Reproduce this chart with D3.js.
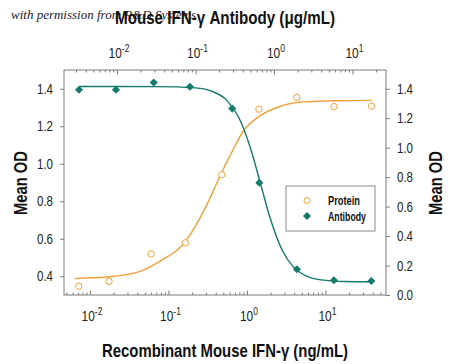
<!DOCTYPE html>
<html><head><meta charset="utf-8">
<script src="https://cdn.jsdelivr.net/npm/d3@7"></script>
<style>
body{margin:0;background:#fff;}
svg{display:block;}
text{font-family:"Liberation Sans Narrow","Arial Narrow","Liberation Sans",sans-serif;}
</style></head>
<body><svg id="c" width="450" height="364"></svg>
<script>
// ---- data ----
const proteinConc = [0.0072, 0.0175, 0.060, 0.164, 0.477, 1.42, 4.3, 12.8, 38.7];        // ng/mL
const proteinOD   = [0.347, 0.372, 0.519, 0.578, 0.942, 1.291, 1.354, 1.305, 1.307];
const antibodyConc = [0.00328, 0.0097, 0.0294, 0.085, 0.294, 0.65, 1.96, 5.8, 17.4];     // µg/mL
const antibodyOD   = [1.393, 1.393, 1.442, 1.413, 1.265, 0.762, 0.175, 0.100, 0.095];
// fitted curves
const proteinFitConc = [0.0064, 0.018, 0.046, 0.096, 0.13, 0.167, 0.283, 0.481, 0.664, 0.889, 1.42, 2.41, 4.33, 12.8, 39.1];
const proteinFitOD   = [0.388, 0.397, 0.430, 0.503, 0.540, 0.590, 0.750, 0.957, 1.074, 1.172, 1.252, 1.300, 1.327, 1.336, 1.338];
const antibodyFitConc = [0.00328, 0.0316, 0.1, 0.158, 0.251, 0.355, 0.501, 0.676, 0.891, 1.259, 1.778, 2.512, 3.981, 7.943, 17.38];
const antibodyFitOD   = [1.415, 1.414, 1.406, 1.385, 1.321, 1.206, 0.998, 0.753, 0.524, 0.309, 0.189, 0.132, 0.103, 0.092, 0.090];
const leftTicks = [0.4, 0.6, 0.8, 1.0, 1.2, 1.4];
const rightTicks = [0.0, 0.2, 0.4, 0.6, 0.8, 1.0, 1.2, 1.4];
const decadeExps = [-2, -1, 0, 1];
const seriesNames = ["Protein", "Antibody"];
const xTitle = "Recombinant Mouse IFN-\u03B3 (ng/mL)";
const x2Title = "Mouse IFN-\u03B3 Antibody (\u03BCg/mL)";
const yTitle = "Mean OD";
const credit = "with permission from R&D Systems";

// ---- layout ----
const L = 64, R = 386, T = 70, B = 295;
const orange = "#f2a03a", teal = "#137a6c", axisCol = "#7a7a7a";
const svg = d3.select("#c");

const xB = d3.scaleLog().domain([Math.pow(10, -2.331), Math.pow(10, 1.771)]).range([L, R]);
const xT = d3.scaleLog().domain([Math.pow(10, -2.675), Math.pow(10, 1.427)]).range([L, R]);
const yL = d3.scaleLinear().domain([0.3, 1.5]).range([B, T]);
const yR = d3.scaleLinear().domain([0, 1.527]).range([B, T]);

function logTicks(scale){
  const [a,b] = scale.domain(); const major=[], minor=[];
  for(let e=Math.floor(Math.log10(a)); e<=Math.ceil(Math.log10(b)); e++){
    for(let m=1;m<10;m++){ const v=m*Math.pow(10,e); if(v>=a&&v<=b){ (m===1?major:minor).push(v);} }
  }
  return {major, minor};
}
function condense(sel, len){ sel.attr("textLength", len).attr("lengthAdjust","spacingAndGlyphs"); }

// credit (drawn first so the title overlaps it)
svg.append("text").attr("x", 11).attr("y", 19).attr("font-size", 13)
  .style("font-family", "'Liberation Serif','DejaVu Serif',serif").style("font-style","italic")
  .attr("fill", "#1c2030").text(credit);

// frame
svg.append("rect").attr("x", L).attr("y", T).attr("width", R-L).attr("height", B-T)
  .attr("fill","none").attr("stroke", axisCol).attr("stroke-width", 1);

// bottom axis ticks (inward)
const tb = logTicks(xB);
svg.append("g").attr("transform",`translate(0,${B})`)
  .call(d3.axisTop(xB).tickValues(tb.minor).tickSize(2.5).tickFormat(""))
  .call(g=>{g.select(".domain").remove(); g.selectAll("line").attr("stroke",axisCol);});
svg.append("g").attr("transform",`translate(0,${B})`)
  .call(d3.axisTop(xB).tickValues(tb.major).tickSize(4.5).tickFormat(""))
  .call(g=>{g.select(".domain").remove(); g.selectAll("line").attr("stroke",axisCol);});
// top axis ticks (inward)
const tt = logTicks(xT);
svg.append("g").attr("transform",`translate(0,${T})`)
  .call(d3.axisBottom(xT).tickValues(tt.minor).tickSize(2.5).tickFormat(""))
  .call(g=>{g.select(".domain").remove(); g.selectAll("line").attr("stroke",axisCol);});
svg.append("g").attr("transform",`translate(0,${T})`)
  .call(d3.axisBottom(xT).tickValues(tt.major).tickSize(4.5).tickFormat(""))
  .call(g=>{g.select(".domain").remove(); g.selectAll("line").attr("stroke",axisCol);});

function powLabel(x, y, e){
  const g = svg.append("g").attr("transform", `translate(${x},${y}) scale(0.85,1)`);
  const t = g.append("text").attr("text-anchor","middle").attr("font-size", 14).attr("fill","#222");
  t.append("tspan").text("10");
  t.append("tspan").attr("dy", -6).attr("font-size", 10).text(String(e));
}
decadeExps.forEach(e=>{
  powLabel(xB(Math.pow(10,e))+2, 321, e);
  powLabel(xT(Math.pow(10,e))+2, 58, e);
});

// left axis
svg.append("g").attr("transform",`translate(${L},0)`)
  .call(d3.axisLeft(yL).tickValues(leftTicks).tickSize(4).tickPadding(7).tickFormat(d3.format(".1f")))
  .call(g=>{g.select(".domain").remove(); g.selectAll("line").attr("stroke",axisCol);
    g.selectAll("text").attr("font-size",14).attr("fill","#222").style("font-family","'Liberation Sans',sans-serif").call(condense, 16);});
// right axis
svg.append("g").attr("transform",`translate(${R},0)`)
  .call(d3.axisRight(yR).tickValues(rightTicks).tickSize(4).tickPadding(7).tickFormat(d3.format(".1f")))
  .call(g=>{g.select(".domain").remove(); g.selectAll("line").attr("stroke",axisCol);
    g.selectAll("text").attr("font-size",14).attr("fill","#222").style("font-family","'Liberation Sans',sans-serif").call(condense, 16);});

// titles
svg.append("text").attr("x", 225).attr("y", 357).attr("text-anchor","middle")
  .attr("font-size", 18).attr("font-weight","bold").attr("fill","#111").text(xTitle).call(condense, 246);
svg.append("text").attr("x", 225).attr("y", 24).attr("text-anchor","middle")
  .attr("font-size", 18).attr("font-weight","bold").attr("fill","#111").text(x2Title).call(condense, 220);
svg.append("text").attr("transform","translate(27,183) rotate(-90)").attr("text-anchor","middle")
  .attr("font-size", 18).attr("font-weight","bold").attr("fill","#111").text(yTitle).call(condense, 64);
svg.append("text").attr("transform","translate(442,183) rotate(-90)").attr("text-anchor","middle")
  .attr("font-size", 18).attr("font-weight","bold").attr("fill","#111").text(yTitle).call(condense, 64);

// curves
const protLine = d3.line().x(d=>xB(d[0])).y(d=>yL(d[1])).curve(d3.curveMonotoneX);
const abLine = d3.line().x(d=>xT(d[0])).y(d=>yR(d[1])).curve(d3.curveMonotoneX);
svg.append("path").datum(d3.zip(proteinFitConc, proteinFitOD)).attr("d", protLine)
  .attr("fill","none").attr("stroke", orange).attr("stroke-width", 1.4);
svg.append("path").datum(d3.zip(antibodyFitConc, antibodyFitOD)).attr("d", abLine)
  .attr("fill","none").attr("stroke", teal).attr("stroke-width", 1.4);

// points
svg.append("g").selectAll("circle").data(d3.zip(proteinConc, proteinOD)).join("circle")
  .attr("cx", d=>xB(d[0])).attr("cy", d=>yL(d[1])).attr("r", 3.2)
  .attr("fill","#fff").attr("stroke", orange).attr("stroke-width", 1);
const diamond = d3.symbol().type(d3.symbolDiamond2).size(42);
svg.append("g").selectAll("path").data(d3.zip(antibodyConc, antibodyOD)).join("path")
  .attr("transform", d=>`translate(${xT(d[0])},${yR(d[1])})`).attr("d", diamond).attr("fill", teal);

// legend
const lg = svg.append("g");
lg.append("rect").attr("x", 286).attr("y", 186).attr("width", 89).attr("height", 45)
  .attr("fill","#fff").attr("stroke","#8a8a8a").attr("stroke-width",1);
lg.append("circle").attr("cx", 307).attr("cy", 200.5).attr("r", 3).attr("fill","#fff").attr("stroke",orange);
lg.append("path").attr("transform","translate(307,216)").attr("d", diamond).attr("fill", teal);
lg.selectAll("text.lg").data(seriesNames).join("text").attr("class","lg")
  .attr("x", 328).attr("y", (d,i)=>205 + i*15.5).attr("font-size", 12.5).attr("font-weight","bold")
  .attr("fill","#111").text(d=>d).each(function(d,i){ d3.select(this).call(condense, i===0 ? 32 : 38); });
</script></body></html>
